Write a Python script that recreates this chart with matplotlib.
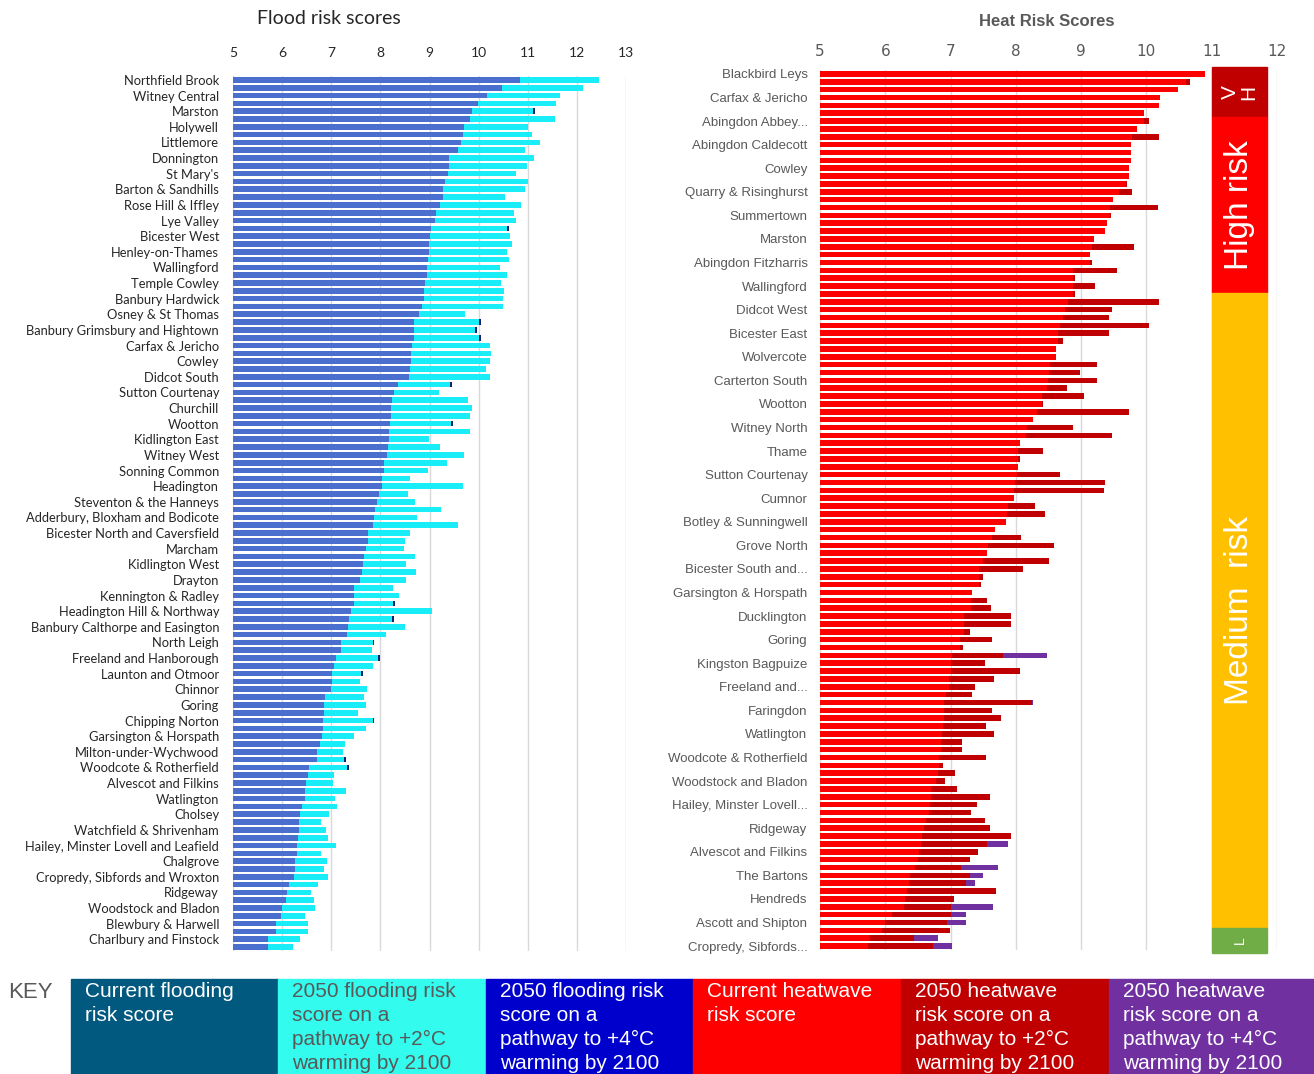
import numpy as np
import matplotlib
matplotlib.use("Agg")
from matplotlib import pyplot as plt
from matplotlib import font_manager
from matplotlib.patches import Rectangle

# ---- flood chart data (112 wards, every 2nd ward labelled) ----
flood_wards = ["Northfield Brook", "Witney Central", "Marston", "Holywell", "Littlemore",
               "Donnington", "St Mary's", "Barton & Sandhills", "Rose Hill & Iffley", "Lye Valley",
               "Bicester West", "Henley-on-Thames", "Wallingford", "Temple Cowley", "Banbury Hardwick",
               "Osney & St Thomas", "Banbury Grimsbury and Hightown", "Carfax & Jericho", "Cowley",
               "Didcot South", "Sutton Courtenay", "Churchill", "Wootton", "Kidlington East",
               "Witney West", "Sonning Common", "Headington", "Steventon & the Hanneys",
               "Adderbury, Bloxham and Bodicote", "Bicester North and Caversfield", "Marcham",
               "Kidlington West", "Drayton", "Kennington & Radley", "Headington Hill & Northway",
               "Banbury Calthorpe and Easington", "North Leigh", "Freeland and Hanborough",
               "Launton and Otmoor", "Chinnor", "Goring", "Chipping Norton", "Garsington & Horspath",
               "Milton-under-Wychwood", "Woodcote & Rotherfield", "Alvescot and Filkins", "Watlington",
               "Cholsey", "Watchfield & Shrivenham", "Hailey, Minster Lovell and Leafield", "Chalgrove",
               "Cropredy, Sibfords and Wroxton", "Ridgeway", "Woodstock and Bladon",
               "Blewbury & Harwell", "Charlbury and Finstock"]

flood_current = [10.84, 10.48, 10.18, 9.99, 9.86, 9.83, 9.71, 9.69, 9.65, 9.59,
                 9.40, 9.40, 9.37, 9.31, 9.28, 9.28, 9.22, 9.13, 9.11, 9.03,
                 9.01, 8.98, 8.98, 8.96, 8.94, 8.94, 8.90, 8.88, 8.88, 8.84,
                 8.79, 8.68, 8.68, 8.68, 8.64, 8.62, 8.62, 8.61, 8.58, 8.35,
                 8.28, 8.24, 8.22, 8.22, 8.20, 8.18, 8.18, 8.15, 8.13, 8.07,
                 8.07, 8.04, 8.04, 7.97, 7.94, 7.90, 7.88, 7.86, 7.75, 7.75,
                 7.71, 7.67, 7.65, 7.62, 7.58, 7.46, 7.46, 7.46, 7.41, 7.37,
                 7.34, 7.32, 7.19, 7.19, 7.09, 7.05, 7.02, 7.02, 7.00, 6.88,
                 6.86, 6.86, 6.83, 6.83, 6.81, 6.77, 6.71, 6.71, 6.55, 6.52,
                 6.49, 6.47, 6.47, 6.41, 6.36, 6.35, 6.35, 6.32, 6.30, 6.30,
                 6.26, 6.26, 6.25, 6.13, 6.09, 6.07, 6.00, 5.98, 5.87, 5.87,
                 5.72, 5.71]

flood_2c = [12.46, 12.12, 11.65, 11.58, 11.10, 11.56, 11.00, 11.08, 11.24, 10.94,
            11.12, 10.99, 10.77, 11.01, 10.94, 10.54, 10.87, 10.71, 10.77, 10.57,
            10.64, 10.67, 10.57, 10.61, 10.43, 10.58, 10.46, 10.52, 10.50, 10.50,
            9.73, 10.00, 9.93, 10.00, 10.24, 10.26, 10.24, 10.16, 10.24, 9.41,
            9.20, 9.79, 9.86, 9.82, 9.44, 9.83, 8.98, 9.22, 9.71, 9.35,
            8.96, 8.61, 9.69, 8.56, 8.71, 9.24, 8.75, 9.58, 8.61, 8.50,
            8.48, 8.71, 8.52, 8.73, 8.52, 8.26, 8.37, 8.26, 9.05, 8.24,
            8.50, 8.11, 7.84, 7.82, 7.95, 7.86, 7.61, 7.58, 7.73, 7.67,
            7.70, 7.54, 7.84, 7.70, 7.46, 7.28, 7.24, 7.26, 7.32, 7.05,
            7.03, 7.30, 7.07, 7.11, 6.96, 6.79, 6.90, 6.94, 7.09, 6.79,
            6.92, 6.86, 6.94, 6.73, 6.58, 6.64, 6.66, 6.47, 6.52, 6.52,
            6.36, 6.22]

# only a few wards show a (tiny) +4C extension past the +2C bar
flood_4c_rows = [4, 19, 31, 32, 33, 39, 44, 67, 69, 72, 74, 76, 82, 87, 88]
flood_4c = [11.14, 10.61, 10.04, 9.97, 10.04, 9.45, 9.48, 8.30, 8.28, 7.88,
            7.99, 7.65, 7.88, 7.30, 7.36]

# ---- heat chart data (112 wards, every 3rd ward labelled) ----
heat_wards = ["Blackbird Leys", "Carfax & Jericho", "Abingdon Abbey...", "Abingdon Caldecott",
              "Cowley", "Quarry & Risinghurst", "Summertown", "Marston", "Abingdon Fitzharris",
              "Wallingford", "Didcot West", "Bicester East", "Wolvercote", "Carterton South",
              "Wootton", "Witney North", "Thame", "Sutton Courtenay", "Cumnor",
              "Botley & Sunningwell", "Grove North", "Bicester South and...",
              "Garsington & Horspath", "Ducklington", "Goring", "Kingston Bagpuize",
              "Freeland and...", "Faringdon", "Watlington", "Woodcote & Rotherfield",
              "Woodstock and Bladon", "Hailey, Minster Lovell...", "Ridgeway",
              "Alvescot and Filkins", "The Bartons", "Hendreds", "Ascott and Shipton",
              "Cropredy, Sibfords..."]

heat_current = [10.90, 10.60, 10.48, 10.21, 10.19, 9.96, 9.96, 9.86, 9.78, 9.76,
                9.76, 9.76, 9.74, 9.73, 9.68, 9.58, 9.49, 9.44, 9.44, 9.40,
                9.37, 9.20, 9.17, 9.13, 9.13, 8.88, 8.88, 8.88, 8.88, 8.80,
                8.75, 8.72, 8.67, 8.65, 8.65, 8.61, 8.61, 8.53, 8.51, 8.49,
                8.47, 8.40, 8.40, 8.33, 8.27, 8.17, 8.16, 8.06, 8.04, 8.04,
                8.04, 8.01, 7.99, 7.97, 7.97, 7.88, 7.87, 7.85, 7.68, 7.63,
                7.58, 7.56, 7.49, 7.44, 7.44, 7.44, 7.33, 7.31, 7.31, 7.21,
                7.21, 7.21, 7.15, 7.15, 7.02, 7.00, 7.00, 6.98, 6.97, 6.93,
                6.90, 6.90, 6.90, 6.88, 6.87, 6.85, 6.85, 6.83, 6.82, 6.80,
                6.78, 6.70, 6.70, 6.68, 6.67, 6.62, 6.60, 6.56, 6.55, 6.52,
                6.50, 6.45, 6.38, 6.36, 6.33, 6.30, 6.28, 6.10, 6.00, 5.95,
                5.77, 5.74]

heat_2c = [10.90, 10.67, 10.48, 10.21, 10.19, 9.96, 10.04, 9.86, 10.19, 9.76,
           9.76, 9.76, 9.74, 9.73, 9.70, 9.78, 9.49, 10.17, 9.46, 9.40,
           9.37, 9.20, 9.81, 9.13, 9.17, 9.55, 8.91, 9.21, 8.91, 10.19,
           9.47, 9.42, 10.04, 9.42, 8.72, 8.61, 8.61, 9.24, 8.99, 9.25,
           8.78, 9.05, 8.42, 9.74, 8.27, 8.87, 9.47, 8.06, 8.41, 8.06,
           8.04, 8.67, 9.37, 9.35, 7.97, 8.29, 8.44, 7.85, 7.68, 8.08,
           8.59, 7.56, 8.51, 8.11, 7.49, 7.47, 7.33, 7.56, 7.62, 7.93,
           7.93, 7.29, 7.63, 7.19, 7.81, 7.53, 8.06, 7.66, 7.37, 7.33,
           8.24, 7.63, 7.78, 7.55, 7.66, 7.18, 7.18, 7.55, 6.89, 7.07,
           6.91, 7.10, 7.60, 7.40, 7.32, 7.53, 7.60, 7.92, 7.56, 7.42,
           7.29, 7.16, 7.29, 7.24, 7.69, 7.05, 7.00, 7.00, 6.94, 6.99,
           6.44, 6.73]

heat_4c_rows = [74, 80, 98, 101, 102, 103, 106, 107, 108, 110, 111]
heat_4c = [8.48, 8.27, 7.88, 7.72, 7.50, 7.38, 7.65, 7.23, 7.24, 6.81, 7.02]

key_labels = ["Current flooding\nrisk score",
              "2050 flooding risk\nscore on a\npathway to +2°C\nwarming by 2100",
              "2050 flooding risk\nscore on a\npathway to +4°C\nwarming by 2100",
              "Current heatwave\nrisk score",
              "2050 heatwave\nrisk score on a\npathway to +2°C\nwarming by 2100",
              "2050 heatwave\nrisk score on a\npathway to +4°C\nwarming by 2100"]
key_colors = ["#02597f", "#33fbee", "#0000cc", "#ff0000", "#c00000", "#7030a0"]
key_text_colors = ["white", "#595959", "white", "white", "white", "white"]

# risk band labels and their extent in heat-chart row units
risk_bands = [("V\nH", -0.9, 5.5, "#c00000", 15),
              ("High risk", 5.5, 27.9, "#ff0000", 24),
              ("Medium  risk", 27.9, 108.7, "#ffc000", 24),
              ("L", 108.7, 111.9, "#70ad47", 10)]

available = {f.name for f in font_manager.fontManager.ttflist}


def pick(*names):
    for n in names:
        if n in available:
            return n
    return "DejaVu Sans"


calibri_like = pick("Lato", "Open Sans", "Liberation Sans")
arial_like = pick("Liberation Sans", "Arial", "DejaVu Sans")

W, H = 1314, 1074
fig = plt.figure(figsize=(W / 100, H / 100), dpi=100)


def fx(px):
    return px / W


def fy(px):
    return 1 - px / H


grid_col = "#d9d9d9"

# ---------------- flood chart ----------------
ax1 = fig.add_axes([fx(233), fy(951), fx(626) - fx(233), fy(76) - fy(951)])
n1 = len(flood_current)
rows1 = np.arange(n1)
ax1.barh(flood_4c_rows, np.array(flood_4c) - 5, left=5, height=0.72, color="#0b1f6e", zorder=2)
ax1.barh(rows1, np.array(flood_2c) - 5, left=5, height=0.72, color="#19eef8", zorder=3)
ax1.barh(rows1, np.array(flood_current) - 5, left=5, height=0.72, color="#4a6fcf", zorder=4)
ax1.set_xlim(5, 13)
ax1.set_ylim(n1 - 0.5, -0.5)
ax1.set_xticks(range(5, 14))
ax1.xaxis.tick_top()
ax1.set_yticks(rows1[::2])
ax1.set_yticklabels(flood_wards, fontsize=9.3, family=calibri_like, color="#262626")
ax1.tick_params(axis="y", length=0, pad=10)
ax1.tick_params(axis="x", length=0, labelsize=10, labelcolor="#262626", pad=12)
for lab in ax1.get_xticklabels():
    lab.set_family(calibri_like)
ax1.grid(axis="x", color=grid_col, lw=1, zorder=0)
ax1.set_axisbelow(True)
for s in ax1.spines.values():
    s.set_visible(False)
fig.text(fx(329), fy(19), "Flood risk scores", ha="center", va="center",
         fontsize=14, family=calibri_like, color="#262626")

# ---------------- heat chart ----------------
ax2 = fig.add_axes([fx(820), fy(950), fx(1277) - fx(820), fy(70) - fy(950)])
n2 = len(heat_current)
rows2 = np.arange(n2)
ax2.barh(heat_4c_rows, np.array(heat_4c) - 5, left=5, height=0.7, color="#7030a0", zorder=2)
ax2.barh(rows2, np.array(heat_2c) - 5, left=5, height=0.7, color="#c00000", zorder=3)
ax2.barh(rows2, np.array(heat_current) - 5, left=5, height=0.7, color="#ff0000", zorder=4)
ax2.set_xlim(5, 12)
ax2.set_ylim(n2 - 0.5, -0.5)
ax2.set_xticks(range(5, 13))
ax2.xaxis.tick_top()
ax2.set_yticks(rows2[::3])
ax2.set_yticklabels(heat_wards, fontsize=9.5, family=arial_like, color="#595959")
ax2.tick_params(axis="y", length=0, pad=9)
ax2.tick_params(axis="x", length=0, labelsize=11, labelcolor="#595959", pad=8)
ax2.grid(axis="x", color=grid_col, lw=1, zorder=0)
ax2.set_axisbelow(True)
for s in ax2.spines.values():
    s.set_visible(False)
fig.text(fx(1047), fy(21), "Heat Risk Scores", ha="center", va="center",
         fontsize=12, fontweight="bold", family=arial_like, color="#595959")

for label, y0, y1, col, fs in risk_bands:
    ax2.add_patch(Rectangle((11.0, y0), 0.85, y1 - y0, color=col, clip_on=False, zorder=5))
    ax2.text(11.425, (y0 + y1) / 2, label, rotation=90, ha="center", va="center",
             color="white", fontsize=fs, family=arial_like, zorder=6,
             linespacing=1.0, clip_on=False)

# ---------------- key ----------------
fig.text(fx(8), fy(993), "KEY", ha="left", va="center", fontsize=16,
         family=arial_like, color="#595959")
edges = [71, 278, 486, 693, 901, 1109, 1314]
for i, (txt, col, tcol) in enumerate(zip(key_labels, key_colors, key_text_colors)):
    x0, x1 = edges[i], edges[i + 1]
    fig.patches.append(Rectangle((fx(x0), 0), fx(x1) - fx(x0), fy(979),
                                 transform=fig.transFigure, color=col, zorder=1))
    fig.text(fx(x0 + 14), fy(982), txt, ha="left", va="top", fontsize=15,
             family=arial_like, color=tcol, linespacing=1.33, zorder=2)

fig.savefig("out.png", dpi=100)
